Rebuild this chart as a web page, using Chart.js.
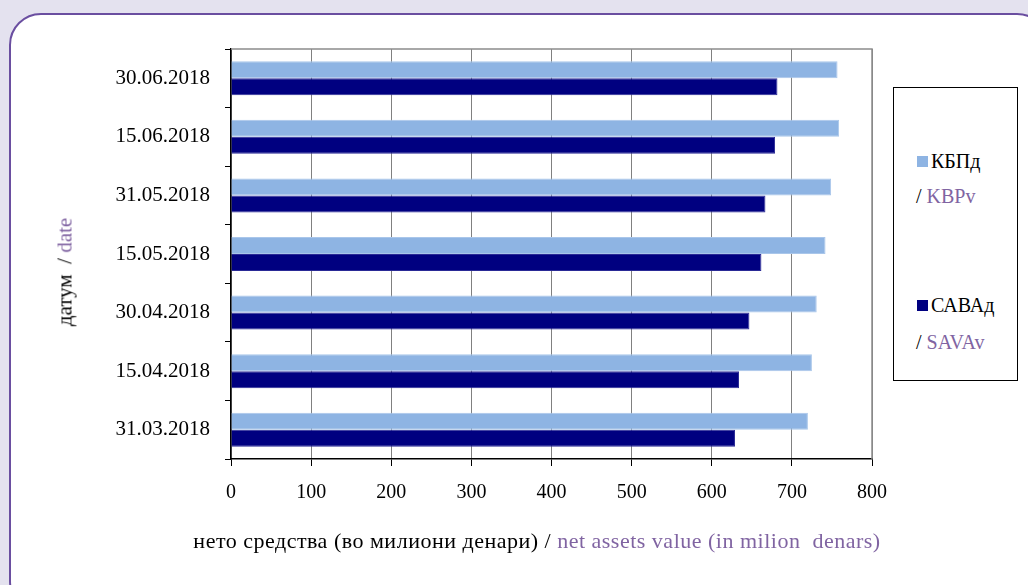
<!DOCTYPE html>
<html>
<head>
<meta charset="utf-8">
<script src="https://cdn.jsdelivr.net/npm/chart.js@4.4.0/dist/chart.umd.min.js"></script>
<style>
    html, body { margin: 0; padding: 0; }
    body {
        width: 1028px; height: 585px; overflow: hidden; position: relative;
        background: #e4e2ef;
        font-family: "Liberation Serif", serif;
    }
    .panel {
        position: absolute; left: 9px; top: 13px; width: 1040px; height: 600px;
        background: #fff; border: 2.5px solid #6a4ea0; border-radius: 32px;
        box-sizing: border-box;
    }
    #chart-wrap { position: absolute; left: 0; top: 0; width: 1028px; height: 585px; }
    .en { color: #8064a2; }
    .legend-box {
        position: absolute; left: 893px; top: 87px; width: 125px; height: 294px;
        border: 1px solid #000; box-sizing: border-box; background: #fff;
    }
    .legend-item { position: absolute; left: 0; font-size: 20px; line-height: 22px; white-space: pre; }
    .swatch { display: inline-block; width: 11px; height: 11px; margin-right: 3px; vertical-align: 1px; }
    .y-title {
        position: absolute; left: 65px; top: 272px; font-size: 21px; white-space: pre;
        transform: translate(-50%, -50%) rotate(-90deg);
    }
    .x-title {
        position: absolute; left: 537px; top: 541px; font-size: 22px; letter-spacing: 0.5px; white-space: pre;
        transform: translate(-50%, -50%);
    }
</style>
</head>
<body>
<div class="panel"></div>
<div id="chart-wrap"><canvas id="nav-chart" width="1028" height="585"></canvas></div>

<div class="y-title">датум  / <span class="en">date</span></div>
<div class="x-title">нето средства (во милиони денари) / <span class="en">net assets value (in milion  denars)</span></div>

<div class="legend-box">
    <div class="legend-item" style="left:23px; top:62px;"><span class="swatch" style="background:#8eb4e3"></span>КБПд</div>
    <div class="legend-item" style="left:22px; top:97px;">/ <span class="en">KBPv</span></div>
    <div class="legend-item" style="left:23px; top:206px;"><span class="swatch" style="background:#000080"></span>САВАд</div>
    <div class="legend-item" style="left:22px; top:243px;">/ <span class="en">SAVAv</span></div>
</div>

<script>
// Dates, top to bottom
const dates = ['30.06.2018', '15.06.2018', '31.05.2018', '15.05.2018', '30.04.2018', '15.04.2018', '31.03.2018'];

// Net assets value, million denars
const kbpValues = [757, 759, 749, 742, 731, 725, 720];
const savaValues = [682, 679, 667, 662, 647, 634, 629];

const xTicks = [0, 100, 200, 300, 400, 500, 600, 700, 800];

// Gray frame on top and right of the plot area
const plotFrame = {
    id: 'plotFrame',
    afterDraw(chart) {
        const { ctx, chartArea } = chart;
        ctx.save();
        ctx.strokeStyle = '#8c8c8c';
        ctx.lineWidth = 1.5;
        ctx.beginPath();
        ctx.moveTo(chartArea.left, chartArea.top);
        ctx.lineTo(chartArea.right, chartArea.top);
        ctx.lineTo(chartArea.right, chartArea.bottom);
        ctx.stroke();
        ctx.restore();
    }
};

const ctx = document.getElementById('nav-chart').getContext('2d');
new Chart(ctx, {
    type: 'bar',
    data: {
        labels: dates,
        datasets: [{
            label: 'КБПд / KBPv',
            data: kbpValues,
            backgroundColor: '#8eb4e3',
            borderColor: '#a9c6ea',
            borderWidth: 1,
            categoryPercentage: 0.58,
            barPercentage: 1
        }, {
            label: 'САВАд / SAVAv',
            data: savaValues,
            backgroundColor: '#000080',
            borderColor: '#2a2a96',
            borderWidth: 1,
            categoryPercentage: 0.58,
            barPercentage: 1
        }]
    },
    options: {
        indexAxis: 'y',
        responsive: false,
        animation: false,
        layout: {
            padding: { top: 49, right: 156, left: 0, bottom: 0 }
        },
        plugins: {
            legend: { display: false },
            tooltip: { enabled: false }
        },
        scales: {
            x: {
                min: 0,
                max: 800,
                afterBuildTicks: (scale) => { scale.ticks = xTicks.map(v => ({ value: v })); },
                afterFit: (scale) => { scale.height = 126; },
                grid: {
                    color: '#808080',
                    lineWidth: 1,
                    tickLength: 7,
                    tickColor: '#000'
                },
                border: { color: '#000', width: 1.5 },
                ticks: {
                    color: '#000',
                    padding: 15,
                    font: { family: 'Liberation Serif', size: 20 }
                }
            },
            y: {
                afterFit: (scale) => { scale.width = 231; },
                grid: {
                    drawOnChartArea: false,
                    offset: true,
                    tickLength: 6,
                    color: '#000'
                },
                border: { color: '#000', width: 1.5 },
                ticks: {
                    color: '#000',
                    padding: 15,
                    font: { family: 'Liberation Serif', size: 21 }
                }
            }
        }
    },
    plugins: [plotFrame]
});
</script>
</body>
</html>
